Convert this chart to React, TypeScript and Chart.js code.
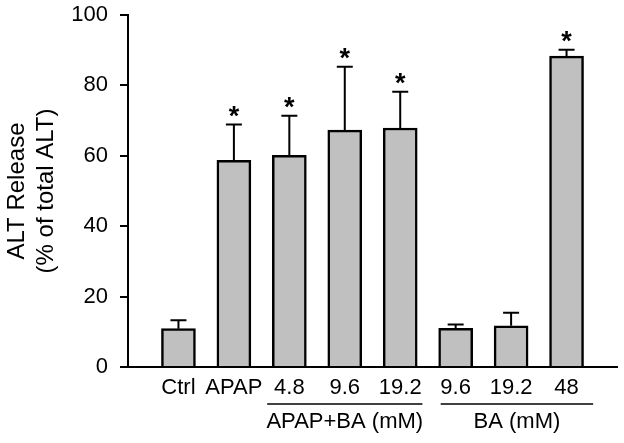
import React, { useEffect, useRef } from "react";
import { Chart, registerables } from "chart.js";

Chart.register(...registerables);

const categories = ["Ctrl", "APAP", "4.8", "9.6", "19.2", "9.6", "19.2", "48"];
const means = [10.9, 58.7, 60.1, 67.3, 67.9, 11.0, 11.7, 88.3];
const errors = [2.4, 10.2, 11.3, 18.0, 10.3, 1.1, 3.7, 1.8];
const significant = [false, true, true, true, true, false, false, true];
const groupLabels = ["APAP+BA (mM)", "BA (mM)"];
const groupFrom = [1.6, 4.73];
const groupTo = [4.4, 7.48];
const yTicks = [0, 20, 40, 60, 80, 100];

const FONT = "'Liberation Sans', Arial, Helvetica, sans-serif";

const extrasPlugin = {
  id: "extras",
  afterDatasetsDraw(chart: any) {
    const ctx = chart.ctx;
    const meta = chart.getDatasetMeta(0);
    const ys = chart.scales.y;
    ctx.save();
    ctx.strokeStyle = "#000";
    ctx.lineWidth = 2;
    meta.data.forEach((bar: any, i: number) => {
      const x = bar.x;
      const yBar = ys.getPixelForValue(means[i]);
      const yTop = ys.getPixelForValue(means[i] + errors[i]);
      ctx.beginPath();
      ctx.moveTo(x, yBar);
      ctx.lineTo(x, yTop);
      ctx.moveTo(x - 8, yTop);
      ctx.lineTo(x + 8, yTop);
      ctx.stroke();
      if (significant[i]) {
        ctx.fillStyle = "#000";
        ctx.font = "bold 27px " + FONT;
        ctx.textAlign = "center";
        ctx.textBaseline = "middle";
        ctx.fillText("*", x, yTop - 7);
      }
    });
    ctx.restore();
  },
  afterDraw(chart: any) {
    const ctx = chart.ctx;
    const xs = chart.scales.x;
    const bottom = chart.chartArea.bottom;
    ctx.save();
    ctx.strokeStyle = "#000";
    ctx.fillStyle = "#000";
    ctx.lineWidth = 1.5;
    ctx.font = "22px " + FONT;
    ctx.textAlign = "center";
    ctx.textBaseline = "middle";
    groupLabels.forEach((label, g) => {
      const x1 = xs.getPixelForValue(groupFrom[g]);
      const x2 = xs.getPixelForValue(groupTo[g]);
      ctx.beginPath();
      ctx.moveTo(x1, bottom + 37);
      ctx.lineTo(x2, bottom + 37);
      ctx.stroke();
      ctx.fillText(label, (x1 + x2) / 2, bottom + 55);
    });
    ctx.restore();
  },
};

export default function App() {
  const ref = useRef<HTMLCanvasElement | null>(null);
  useEffect(() => {
    if (!ref.current) return;
    const chart = new Chart(ref.current, {
      type: "bar",
      data: {
        datasets: [
          {
            data: means.map((v, i) => ({ x: i, y: v })),
            backgroundColor: "#c0c0c0",
            borderColor: "#000",
            borderWidth: 2.5,
            barThickness: 34,
          },
        ],
      },
      options: {
        animation: false,
        responsive: true,
        maintainAspectRatio: false,
        layout: { padding: { top: 15, right: 7, left: 0, bottom: 0 } },
        plugins: { legend: { display: false }, tooltip: { enabled: false } },
        scales: {
          x: {
            type: "linear",
            offset: false,
            min: -0.91,
            max: 7.91,
            grid: { display: false, drawTicks: false, offset: false },
            border: { display: true, color: "#000", width: 2 },
            afterBuildTicks: (s: any) => {
              s.ticks = categories.map((_, i) => ({ value: i }));
            },
            afterFit: (s: any) => {
              s.height = 76;
              s.paddingLeft = 0;
              s.paddingRight = 0;
            },
            ticks: {
              autoSkip: false,
              maxRotation: 0,
              padding: 8,
              color: "#000",
              font: { family: FONT, size: 22 },
              callback: (v: any) => categories[v] ?? "",
            },
          },
          y: {
            min: 0,
            max: 100,
            afterBuildTicks: (s: any) => {
              s.ticks = yTicks.map((v) => ({ value: v }));
            },
            afterFit: (s: any) => {
              s.width = 128;
              s.paddingTop = 0;
              s.paddingBottom = 0;
            },
            grid: {
              drawOnChartArea: false,
              drawTicks: true,
              tickLength: 8,
              color: "#000",
              lineWidth: 2,
            },
            border: { display: true, color: "#000", width: 2 },
            ticks: {
              padding: 12,
              color: "#000",
              font: { family: FONT, size: 22 },
            },
            title: {
              display: true,
              text: ["ALT Release", "(% of total ALT)"],
              color: "#000",
              font: { family: FONT, size: 24, lineHeight: 1.2 },
              padding: { top: 3, bottom: 0 },
            },
          },
        },
      },
      plugins: [extrasPlugin],
    });
    return () => chart.destroy();
  }, []);
  return (
    <div style={{ position: "fixed", left: 0, top: 0, width: 624, height: 443, background: "#fff" }}>
      <canvas ref={ref} />
    </div>
  );
}
